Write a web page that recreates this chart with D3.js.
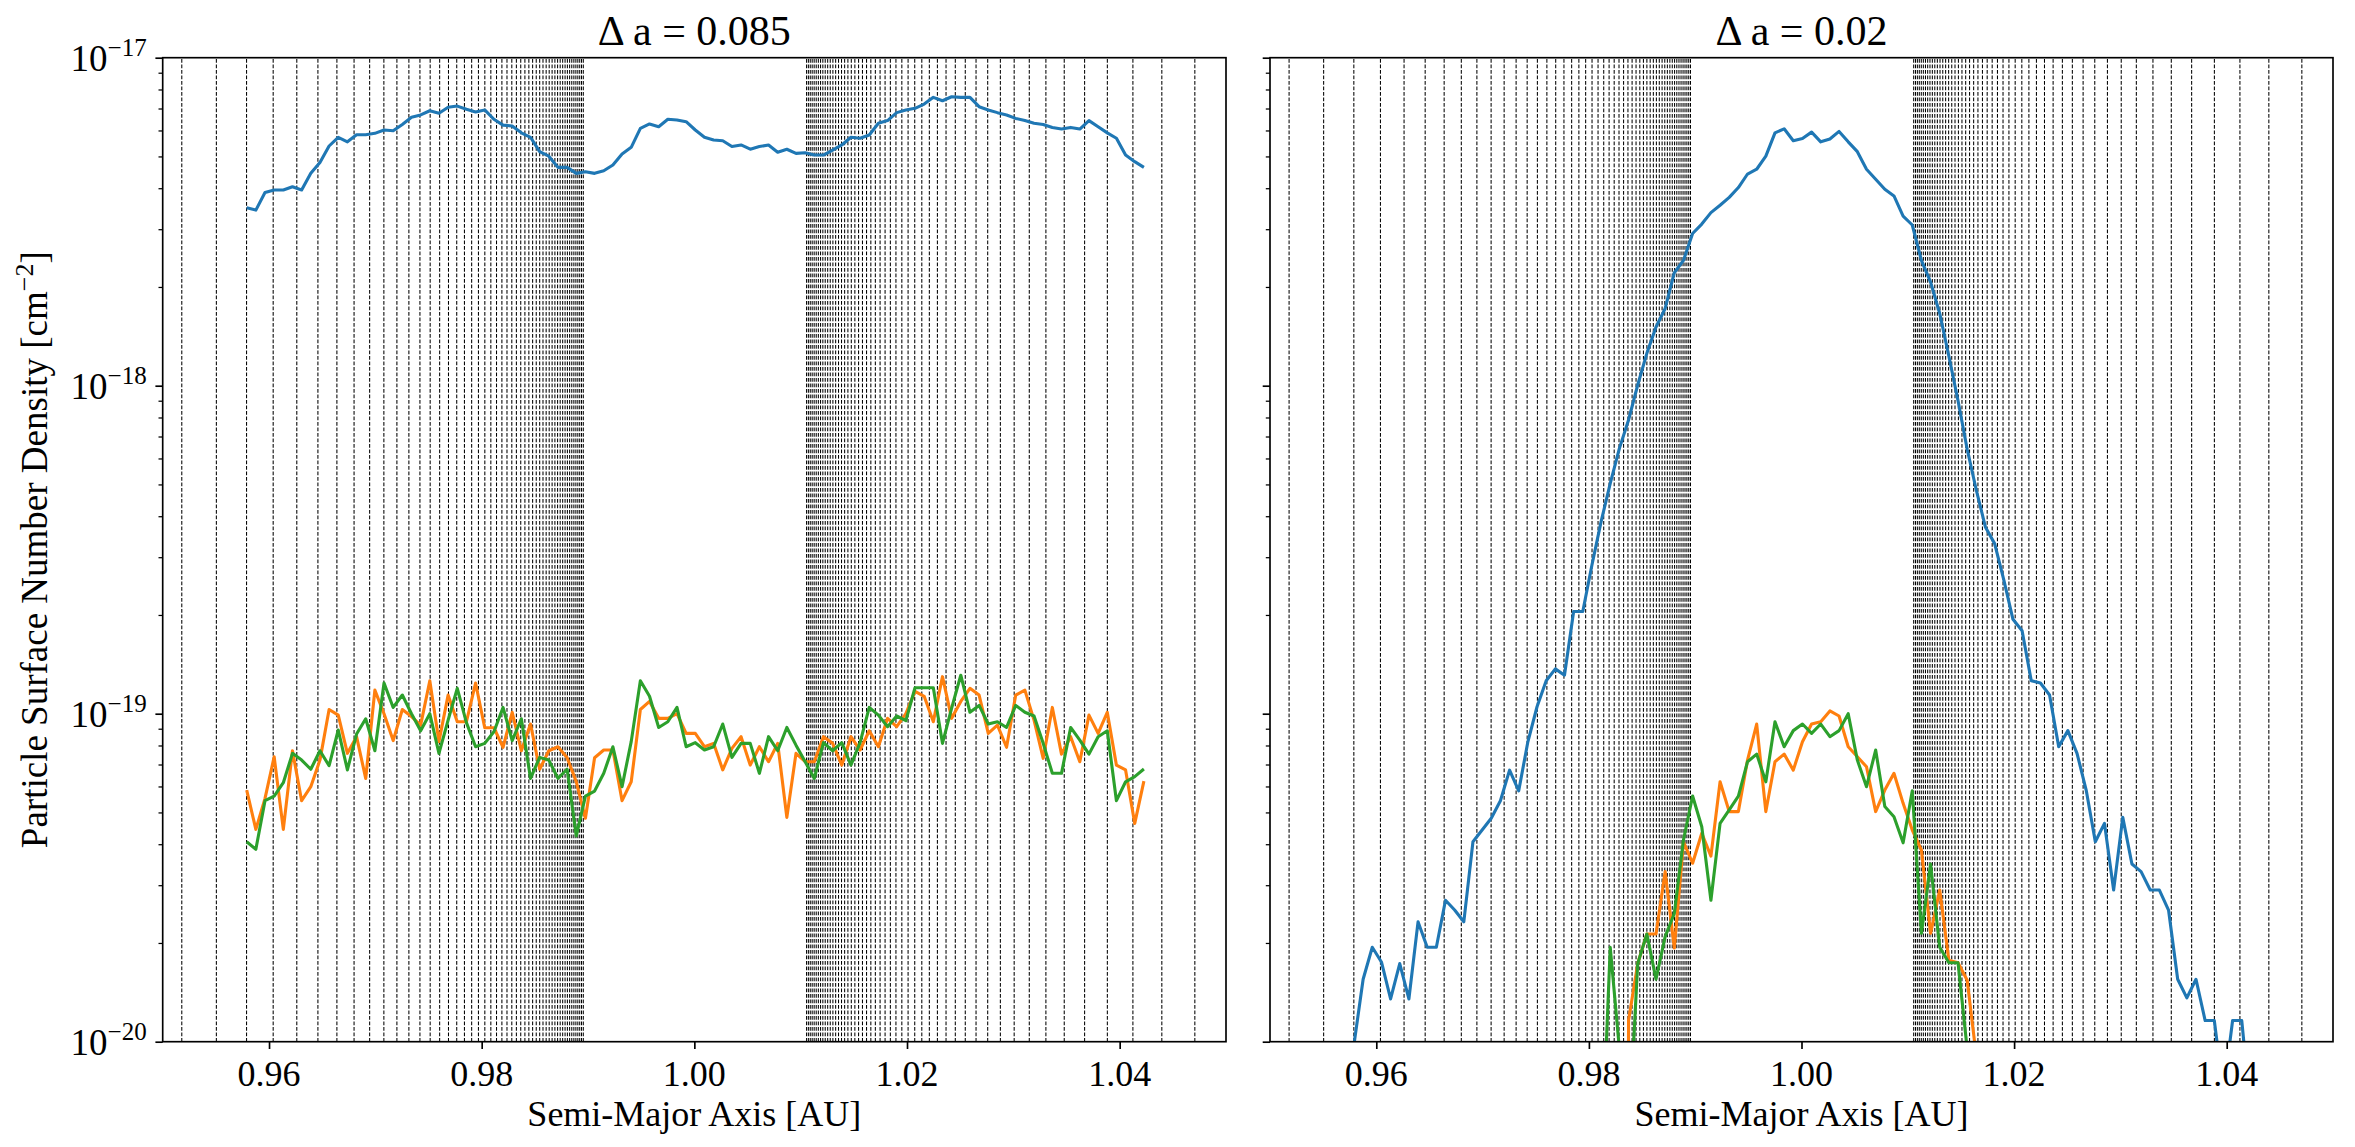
<!DOCTYPE html>
<html lang="en">
<head>
  <meta charset="UTF-8">
  <title>Particle Surface Number Density</title>
  <script src="https://d3js.org/d3.v7.min.js"></script>
  <style>
    body { margin: 0; background: #fff; }
    svg text { font-family: "Liberation Serif", "DejaVu Serif", serif; fill: #000; }
  </style>
</head>
<body>
  <div id="chart"></div>
  <script>
    // bin centres in AU
    const binStart = 0.9579
    const binStep = 0.000861

    // densities in units of 1e-20 cm^-2 (0 = empty bin)
    const wideBlue = [349, 343, 388, 395, 395, 404, 395, 444, 479, 538,
      572, 554, 582, 582, 588, 602, 599, 626, 658, 669,
      689, 677, 706, 712, 696, 683, 693, 649, 623, 619,
      590, 572, 517, 501, 463, 463, 444, 449, 444, 452,
      471, 509, 533, 609, 628, 616, 649, 646, 638, 602,
      572, 561, 558, 536, 542, 526, 536, 542, 515, 526,
      511, 513, 505, 505, 523, 542, 572, 568, 581, 631,
      643, 680, 693, 701, 722, 757, 739, 760, 757, 757,
      709, 693, 680, 669, 653, 643, 631, 626, 613, 606,
      613, 606, 643, 616, 590, 568, 505, 482, 463]
    const wideOrange = [5.85, 4.44, 5.52, 7.39, 4.44, 7.71, 5.43, 5.99, 7.22, 10.3,
      9.9, 7.57, 8.51, 6.35, 11.8, 10.0, 8.28, 10.3, 9.8, 9.23,
      12.6, 8.22, 11.4, 9.45, 9.45, 12.4, 9.06, 9.06, 7.90, 10.1,
      7.71, 9.30, 6.77, 7.71, 7.93, 7.34, 6.20, 4.80, 7.34, 7.75,
      7.75, 5.43, 6.20, 10.3, 10.9, 9.68, 9.68, 10.0, 8.71, 8.71,
      7.93, 8.12, 6.74, 7.84, 8.51, 6.97, 7.93, 7.14, 8.12, 4.83,
      7.57, 7.14, 7.14, 8.51, 8.12, 6.97, 8.51, 7.75, 8.87, 7.93,
      9.68, 9.13, 10.0, 11.7, 11.3, 9.45, 12.97, 9.68, 10.9, 11.95,
      11.4, 8.71, 9.23, 7.90, 11.4, 11.8, 9.56, 7.31, 10.45, 7.53,
      8.51, 7.14, 9.9, 8.71, 10.1, 6.97, 6.74, 4.63, 6.23]
    const wideGreen = [4.07, 3.86, 5.43, 5.61, 6.16, 7.57, 7.22, 6.77, 7.71, 6.94,
      8.92, 6.74, 8.67, 9.65, 7.71, 12.4, 10.45, 11.4, 10.0, 8.87,
      10.0, 7.57, 9.56, 11.95, 9.39, 7.93, 8.12, 8.81, 10.45, 8.28,
      9.65, 6.35, 7.36, 7.22, 6.35, 6.77, 4.24, 5.61, 5.81, 6.58,
      7.93, 5.99, 8.22, 12.6, 11.3, 9.08, 9.45, 10.45, 7.93, 8.16,
      7.75, 7.93, 9.30, 7.36, 8.12, 8.12, 6.58, 8.51, 7.71, 9.08,
      8.02, 7.14, 6.35, 8.16, 7.71, 8.16, 6.97, 8.16, 10.45, 9.9,
      9.13, 9.84, 9.52, 12.0, 12.0, 12.0, 8.12, 10.4, 13.1, 10.1,
      10.6, 9.30, 9.45, 9.08, 10.6, 10.1, 9.84, 8.12, 6.58, 6.58,
      9.08, 8.31, 7.53, 8.51, 8.87, 5.43, 6.20, 6.43, 6.78]

    const narrowBlue = [0.98, 1.55, 1.94, 1.75, 1.35, 1.73, 1.35, 2.32, 1.94, 1.94,
      2.70, 2.52, 2.32, 4.07, 4.42, 4.80, 5.43, 6.73, 5.82, 8.21,
      10.5, 12.6, 13.7, 13.1, 20.5, 20.5, 28.4, 38.5, 50.4, 64.4,
      78.6, 100.5, 125.5, 151, 172, 221, 241, 291, 311, 337,
      355, 375, 402, 442, 457, 501, 590, 607, 558, 567,
      593, 554, 565, 596, 554, 517, 457, 426, 397, 379,
      329, 309, 241, 207, 166, 123, 90, 64, 48, 37,
      33, 25.6, 19.4, 17.9, 12.6, 12.4, 11.4, 7.93, 8.88, 7.57,
      5.85, 4.07, 4.63, 2.90, 4.83, 3.48, 3.30, 2.90, 2.90, 2.52,
      1.55, 1.36, 1.55, 1.16, 1.16, 0.7, 1.16, 1.16, 0.6]
    const narrowOrange = [0, 0, 0, 0, 0, 0, 0, 0, 0, 0,
      0, 0, 0, 0, 0, 0, 0, 0, 0, 0,
      0, 0, 0, 0, 0, 0, 0, 0, 0, 0,
      1.16, 1.73, 2.13, 2.13, 3.30, 1.93, 4.07, 3.50, 4.32, 3.68,
      6.20, 5.03, 5.03, 7.22, 9.30, 5.03, 7.14, 7.53, 6.73, 8.21,
      9.30, 9.45, 10.2, 9.84, 7.93, 7.39, 6.89, 5.03, 5.85, 6.58,
      5.33, 4.42, 3.84, 2.14, 2.90, 1.77, 1.74, 1.54, 0.9, 0,
      0, 0, 0, 0, 0, 0, 0, 0, 0, 0,
      0, 0, 0, 0, 0, 0, 0, 0, 0, 0,
      0, 0, 0, 0, 0, 0, 0, 0, 0]
    const narrowGreen = [0, 0, 0, 0, 0, 0, 0, 0, 0, 0,
      0, 0, 0, 0, 0, 0, 0, 0, 0, 0,
      0, 0, 0, 0, 0, 0, 0, 0.4, 1.94, 0.95,
      0.5, 1.73, 2.13, 1.55, 2.09, 2.46, 4.12, 5.61, 4.52, 2.70,
      4.63, 5.09, 5.61, 7.14, 7.53, 6.20, 9.45, 7.93, 8.88, 9.30,
      8.71, 9.30, 8.51, 8.88, 10.0, 7.22, 5.99, 7.75, 5.21, 4.85,
      4.04, 5.82, 2.14, 3.48, 1.94, 1.74, 1.74, 0.95, 0, 0,
      0, 0, 0, 0, 0, 0, 0, 0, 0, 0,
      0, 0, 0, 0, 0, 0, 0, 0, 0, 0,
      0, 0, 0, 0, 0, 0, 0, 0, 0]

    const unit = 1e-20
    const panelTitles = ['Δ a = 0.085', 'Δ a = 0.02']
    const xTicks = [0.96, 0.98, 1.00, 1.02, 1.04]
    const yDecades = [-20, -19, -18, -17]
    // first-order mean motion resonances j:j+1 on both sides of the planet
    const resonanceOrders = d3.range(1, 64)

    const colors = ['#1f77b4', '#ff7f0e', '#2ca02c']
    const width = 2355, height = 1147
    const plotTop = 57.7, plotBottom = 1041.7

    const panels = [
      { left: 162.7, right: 1226, title: panelTitles[0], series: [wideBlue, wideOrange, wideGreen], yLabels: true },
      { left: 1270, right: 2333, title: panelTitles[1], series: [narrowBlue, narrowOrange, narrowGreen], yLabels: false }
    ]

    const resonances = []
    resonanceOrders.forEach(j => {
      resonances.push(Math.pow(j / (j + 1), 2 / 3))
      resonances.push(Math.pow((j + 1) / j, 2 / 3))
    })

    const svg = d3.select('#chart').append('svg')
      .attr('width', width)
      .attr('height', height)
      .style('display', 'block')

    const y = d3.scaleLog()
      .domain([1e-20, 1e-17])
      .range([plotBottom, plotTop])

    const minorTicks = []
    yDecades.slice(0, -1).forEach(e => {
      for (let k = 2; k <= 9; k++) minorTicks.push(k * Math.pow(10, e))
    })

    panels.forEach((p, pi) => {
      const x = d3.scaleLinear()
        .domain([0.95, 1.05])
        .range([p.left, p.right])

      const clipId = 'clip' + pi
      svg.append('clipPath').attr('id', clipId)
        .append('rect')
        .attr('x', p.left).attr('y', plotTop)
        .attr('width', p.right - p.left).attr('height', plotBottom - plotTop)

      const g = svg.append('g')
      const plot = g.append('g').attr('clip-path', `url(#${clipId})`)

      // resonance lines
      plot.selectAll('.res')
        .data(resonances.filter(a => a > 0.95 && a < 1.05))
        .enter().append('line')
        .attr('x1', d => x(d)).attr('x2', d => x(d))
        .attr('y1', plotBottom).attr('y2', plotTop)
        .attr('stroke', '#000')
        .attr('stroke-width', 1.05)
        .attr('stroke-dasharray', '3.8,1.7')

      const line = d3.line()
        .x((d, i) => x(binStart + i * binStep))
        .y(d => y(d > 0 ? d * unit : 1e-30))

      p.series.forEach((s, si) => {
        plot.append('path')
          .datum(s)
          .attr('d', line)
          .attr('fill', 'none')
          .attr('stroke', colors[si])
          .attr('stroke-width', 3.1)
          .attr('stroke-linejoin', 'round')
      })

      // x axis
      const xAxis = g.append('g')
        .attr('transform', `translate(0,${plotBottom})`)
        .call(d3.axisBottom(x).tickValues(xTicks).tickSize(7.3).tickFormat(''))
      xAxis.select('.domain').remove()
      xAxis.selectAll('line').attr('stroke-width', 1.67)

      g.selectAll('.xlab')
        .data(xTicks)
        .enter().append('text')
        .attr('x', d => x(d))
        .attr('y', plotBottom + 44)
        .attr('text-anchor', 'middle')
        .style('font-size', '36px')
        .text(d => d.toFixed(2))

      // y axis
      const yAxis = g.append('g')
        .attr('transform', `translate(${p.left},0)`)
        .call(d3.axisLeft(y).tickValues(yDecades.map(e => Math.pow(10, e))).tickSize(7.3).tickFormat(''))
      yAxis.select('.domain').remove()
      yAxis.selectAll('line').attr('stroke-width', 1.67)

      const yMinor = g.append('g')
        .attr('transform', `translate(${p.left},0)`)
        .call(d3.axisLeft(y).tickValues(minorTicks).tickSize(4.2).tickFormat(''))
      yMinor.select('.domain').remove()
      yMinor.selectAll('line').attr('stroke-width', 1.25)

      if (p.yLabels) {
        yDecades.forEach(e => {
          const t = g.append('text')
            .attr('x', p.left - 16)
            .attr('y', y(Math.pow(10, e)) + 13)
            .attr('text-anchor', 'end')
            .style('font-size', '37px')
          t.append('tspan').text('10')
          t.append('tspan')
            .attr('dy', -15)
            .style('font-size', '25px')
            .text('\u2212' + Math.abs(e))
        })
      }

      // frame
      g.append('rect')
        .attr('x', p.left).attr('y', plotTop)
        .attr('width', p.right - p.left).attr('height', plotBottom - plotTop)
        .attr('fill', 'none')
        .attr('stroke', '#000')
        .attr('stroke-width', 1.67)

      g.append('text')
        .attr('x', (p.left + p.right) / 2)
        .attr('y', 45)
        .attr('text-anchor', 'middle')
        .style('font-size', '42px')
        .text(p.title)

      g.append('text')
        .attr('x', (p.left + p.right) / 2)
        .attr('y', 1126)
        .attr('text-anchor', 'middle')
        .style('font-size', '36px')
        .text('Semi-Major Axis [AU]')
    })

    const yTitle = svg.append('text')
      .attr('transform', `translate(47,${(plotTop + plotBottom) / 2}) rotate(-90)`)
      .attr('text-anchor', 'middle')
      .style('font-size', '37px')
    yTitle.append('tspan').text('Particle Surface Number Density [cm')
    yTitle.append('tspan').attr('dy', -14).style('font-size', '26px').text('\u22122')
    yTitle.append('tspan').attr('dy', 14).text(']')
  </script>
</body>
</html>
